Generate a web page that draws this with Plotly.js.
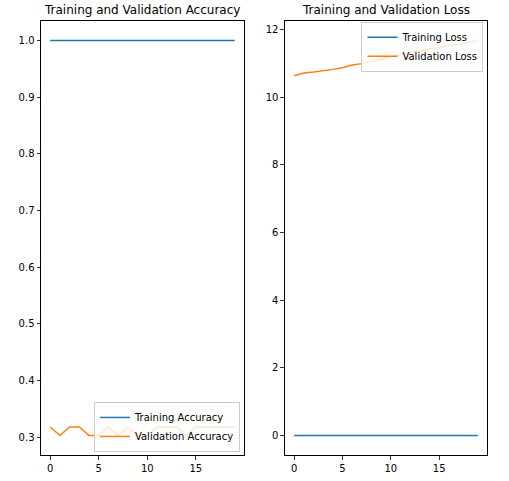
<!DOCTYPE html>
<html>
<head>
<meta charset="utf-8">
<script src="https://cdn.plot.ly/plotly-3.0.1.min.js"></script>
<style>
  body{margin:0;padding:0;background:#fff;}
  #plot{width:509px;height:481px;}
</style>
</head>
<body>
<div id="plot"></div>
<script>
// epochs and history values
var epochs = [0,1,2,3,4,5,6,7,8,9,10,11,12,13,14,15,16,17,18,19]
var trainAcc = [1,1,1,1,1,1,1,1,1,1,1,1,1,1,1,1,1,1,1,1]
var valAcc = [0.318,0.303,0.318,0.318,0.303,0.303,0.318,0.303,0.318,0.303,
              0.303,0.318,0.318,0.318,0.303,0.318,0.318,0.318,0.318,0.318]
var trainLoss = [0,0,0,0,0,0,0,0,0,0,0,0,0,0,0,0,0,0,0,0]
var valLoss = [10.63,10.71,10.74,10.77,10.82,10.87,10.95,10.99,11.05,11.12,
               11.2,11.26,11.3,11.36,11.42,11.47,11.52,11.57,11.62,11.67]

var blue='#1f77b4', orange='#ff7f0e'
var fnt={family:'DejaVu Sans, sans-serif',size:10,color:'#000'}

var data=[
  {x:epochs,y:trainAcc,mode:'lines',name:'Training Accuracy',line:{color:blue,width:1.5},xaxis:'x',yaxis:'y',legend:'legend'},
  {x:epochs,y:valAcc,mode:'lines',name:'Validation Accuracy',line:{color:orange,width:1.5},xaxis:'x',yaxis:'y',legend:'legend'},
  {x:epochs,y:trainLoss,mode:'lines',name:'Training Loss',line:{color:blue,width:1.5},xaxis:'x2',yaxis:'y2',legend:'legend2'},
  {x:epochs,y:valLoss,mode:'lines',name:'Validation Loss',line:{color:orange,width:1.5},xaxis:'x2',yaxis:'y2',legend:'legend2'}
]

var ax=function(extra){
  var a={showline:true,mirror:true,linecolor:'#000',linewidth:1,ticks:'outside',ticklen:3.5,
    tickcolor:'#000',tickwidth:0.8,showgrid:false,zeroline:false,tickfont:fnt,fixedrange:true}
  for(var k in extra){a[k]=extra[k]}
  return a
}

var legendStyle=function(x,y,xa,ya){
  return {x:x,y:y,xanchor:xa,yanchor:ya,bgcolor:'rgba(255,255,255,0.8)',bordercolor:'#cccccc',
    borderwidth:1,font:fnt,tracegroupgap:0,itemwidth:30}
}

var layout={
  width:509,height:481,
  margin:{l:41,r:22,t:21,b:26},
  paper_bgcolor:'#fff',plot_bgcolor:'#fff',
  showlegend:true,
  xaxis:ax({domain:[0,0.455],range:[-0.95,19.95],tickvals:[0,5,10,15],anchor:'y'}),
  yaxis:ax({domain:[0,1],range:[0.2685,1.0345],dtick:0.1,tick0:0,tickformat:'.1f',anchor:'x'}),
  xaxis2:ax({domain:[0.547,1],range:[-0.95,19.95],tickvals:[0,5,10,15],anchor:'y2'}),
  yaxis2:ax({domain:[0,1],range:[-0.58,12.25],tickvals:[0,2,4,6,8,10,12],anchor:'x2'}),
  legend:legendStyle(0.446,0.007,'right','bottom'),
  legend2:legendStyle(0.992,0.998,'right','top'),
  annotations:[
    {text:'Training and Validation Accuracy',xref:'x domain',yref:'paper',x:0.5,y:1,xanchor:'center',yanchor:'bottom',
     yshift:2,showarrow:false,font:{family:'DejaVu Sans, sans-serif',size:12,color:'#000'}},
    {text:'Training and Validation Loss',xref:'x2 domain',yref:'paper',x:0.5,y:1,xanchor:'center',yanchor:'bottom',
     yshift:2,showarrow:false,font:{family:'DejaVu Sans, sans-serif',size:12,color:'#000'}}
  ]
}

Plotly.newPlot('plot',data,layout,{displayModeBar:false,staticPlot:true})
</script>
</body>
</html>
